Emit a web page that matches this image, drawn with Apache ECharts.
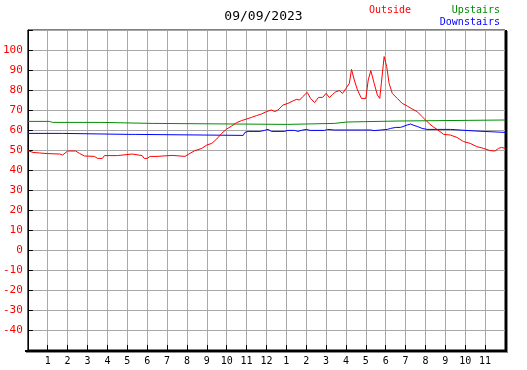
<!DOCTYPE html>
<html>
<head>
<meta charset="utf-8">
<script src="https://cdn.jsdelivr.net/npm/echarts@6/dist/echarts.min.js"></script>
<style>html,body{margin:0;padding:0;background:#fff}#c{width:527px;height:370px}</style>
</head>
<body>
<div id="c"></div>
<script>
var titleText = '09/09/2023';
var yTicks = [-40,-30,-20,-10,0,10,20,30,40,50,60,70,80,90,100];
var hourLabels = ['1','2','3','4','5','6','7','8','9','10','11','12','1','2','3','4','5','6','7','8','9','10','11'];

var outsideHours = [0,0.25,0.6,1.0,1.6,1.75,2.0,2.4,2.6,2.85,3.35,3.5,3.75,3.85,4.5,4.6,5.25,5.35,5.75,5.85,6.0,6.15,6.5,7.25,7.33,7.9,8.1,8.4,8.75,9.0,9.25,9.5,9.75,10.0,10.25,10.5,10.75,11.0,11.25,11.5,11.75,12.0,12.25,12.42,12.58,12.83,13.08,13.33,13.5,13.67,13.83,14.05,14.22,14.42,14.62,14.83,15.0,15.17,15.33,15.5,15.67,15.83,16.0,16.17,16.28,16.42,16.58,16.78,17.0,17.12,17.25,17.42,17.58,17.7,17.78,17.92,18.05,18.17,18.33,18.58,18.83,19.08,19.33,19.58,19.83,20.08,20.33,20.58,20.92,21.25,21.58,21.92,22.25,22.58,22.92,23.25,23.5,23.67,23.83,24.0];
var outsideTemps = [49.7,48.8,48.5,48.2,48,47.5,49.5,49.5,48.3,47,46.8,45.8,45.8,47.2,47.2,48,48,47.2,47.2,45.8,45.8,46.8,46.8,47.3,46.8,46.8,48,49.7,50.8,52.5,53.3,55.5,58.3,60.5,62,63.7,64.7,65.5,66.3,67.2,68,69.2,70,69.2,70,72.5,73.3,74.5,75.3,75,76.7,78.8,75.8,73.7,76.3,76.3,78.3,76.2,77.8,79.2,79.7,78.3,80.8,83.3,90.3,85,80,75.8,75.8,85,89.7,83.3,77.5,75.8,83.3,96.7,91.7,83.3,78.3,75.8,73.3,72,70.5,69.2,66.7,64.2,62,60.3,57.8,57.5,56.3,54.2,53.3,51.7,50.8,49.7,49.5,50.8,51.3,50.8];

var upstairsHours = [0,1.08,1.1,1.25,1.28,1.33,3.67,3.7,6.25,6.3,13.05,13.08,15.42,15.45,16.05,16.08,18.67,18.72,24];
var upstairsTemps = [64.3,64.3,63.8,63.8,64.3,63.8,63.8,63.3,63.3,62.8,62.8,63.3,63.3,64,64,64.5,64.5,65,65];

var downstairsHours = [0,1.75,1.8,5.08,5.15,5.25,5.4,5.47,10.83,10.92,11.08,11.67,11.75,11.9,12.08,12.25,12.9,13.08,13.42,13.58,13.75,14.0,14.2,14.92,15.08,15.42,16.0,16.08,16.25,17.25,17.42,17.75,18.08,18.25,18.5,18.75,19.08,19.25,19.42,19.58,19.83,20.08,21.25,21.33,22.5,22.58,24];
var downstairsTemps = [58.3,58.3,57.8,57.8,57.5,57.8,57.8,57.3,57.3,58.8,59.3,59.3,59.8,59.8,60.3,59.3,59.3,59.8,59.8,59.3,59.8,60.3,59.8,59.8,60.3,60,60,60.8,60,60,59.7,60,60.3,60.8,61.3,61.3,62.5,63,62.3,61.8,60.8,60.3,60.3,59.5,59.5,58.8,58.8];

function pairs(h, v){ return h.map(function(x,i){ return [x, v[i]]; }); }

var mono = 'DejaVu Sans Mono';
var chart = echarts.init(document.getElementById('c'), null, {renderer:'canvas'});
chart.setOption({
  animation: false,
  backgroundColor: '#fff',
  grid: {left:25, top:30, width:480, height:320, show:true, borderColor:'#000', borderWidth:1, backgroundColor:'transparent'},
  xAxis: {
    type:'value', min:0, max:24, interval:1,
    axisLine:{show:true, onZero:false, lineStyle:{color:'#000', width:1}},
    axisTick:{show:true, inside:true, length:5, lineStyle:{color:'#000'}},
    splitLine:{show:true, lineStyle:{color:'#a8a8a8', width:1}},
    axisLabel:{show:true, color:'#000', fontFamily:mono, fontSize:10, margin:6, showMinLabel:false, showMaxLabel:false,
      formatter:function(v){ return (v>=1 && v<=23) ? hourLabels[v-1] : ''; }}
  },
  yAxis: {
    type:'value', min:-50, max:110, interval:10,
    axisLine:{show:true, onZero:false, lineStyle:{color:'#000', width:1}},
    axisTick:{show:true, inside:true, length:5, lineStyle:{color:'#000'}},
    splitLine:{show:true, lineStyle:{color:'#a8a8a8', width:1}},
    axisLabel:{show:true, color:'#ff0000', fontFamily:mono, fontSize:11, margin:5,
      formatter:function(v){ return yTicks.indexOf(v) >= 0 ? String(v) : ''; }}
  },
  series: [
    {name:'Upstairs', type:'line', data:pairs(upstairsHours, upstairsTemps), symbol:'none', lineStyle:{color:'#008c00', width:1}, z:3},
    {name:'Downstairs', type:'line', data:pairs(downstairsHours, downstairsTemps), symbol:'none', lineStyle:{color:'#0000ff', width:1}, z:4},
    {name:'Outside', type:'line', data:pairs(outsideHours, outsideTemps), symbol:'none', lineStyle:{color:'#ff0000', width:1}, z:5}
  ],
  graphic: [
    {type:'text', left:'center', top:10, style:{text:titleText, fill:'#000', font:'13px "DejaVu Sans Mono"'}, z:100},
    {type:'text', x:369, y:5, style:{text:'Outside', fill:'#ff0000', font:'10px "DejaVu Sans Mono"'}, z:100},
    {type:'text', x:500, y:5, style:{text:'Upstairs', fill:'#008c00', font:'10px "DejaVu Sans Mono"', align:'right'}, z:100},
    {type:'text', x:500, y:17, style:{text:'Downstairs', fill:'#0000ff', font:'10px "DejaVu Sans Mono"', align:'right'}, z:100},
    {type:'rect', shape:{x:25, y:350, width:482, height:2}, style:{fill:'#000'}, z:100},
    {type:'rect', shape:{x:26, y:352, width:482, height:1}, style:{fill:'#888'}, z:100},
    {type:'rect', shape:{x:505, y:30, width:2, height:322}, style:{fill:'#000'}, z:100},
    {type:'rect', shape:{x:507, y:31, width:1, height:322}, style:{fill:'#888'}, z:100}
  ]
});
</script>
</body>
</html>
